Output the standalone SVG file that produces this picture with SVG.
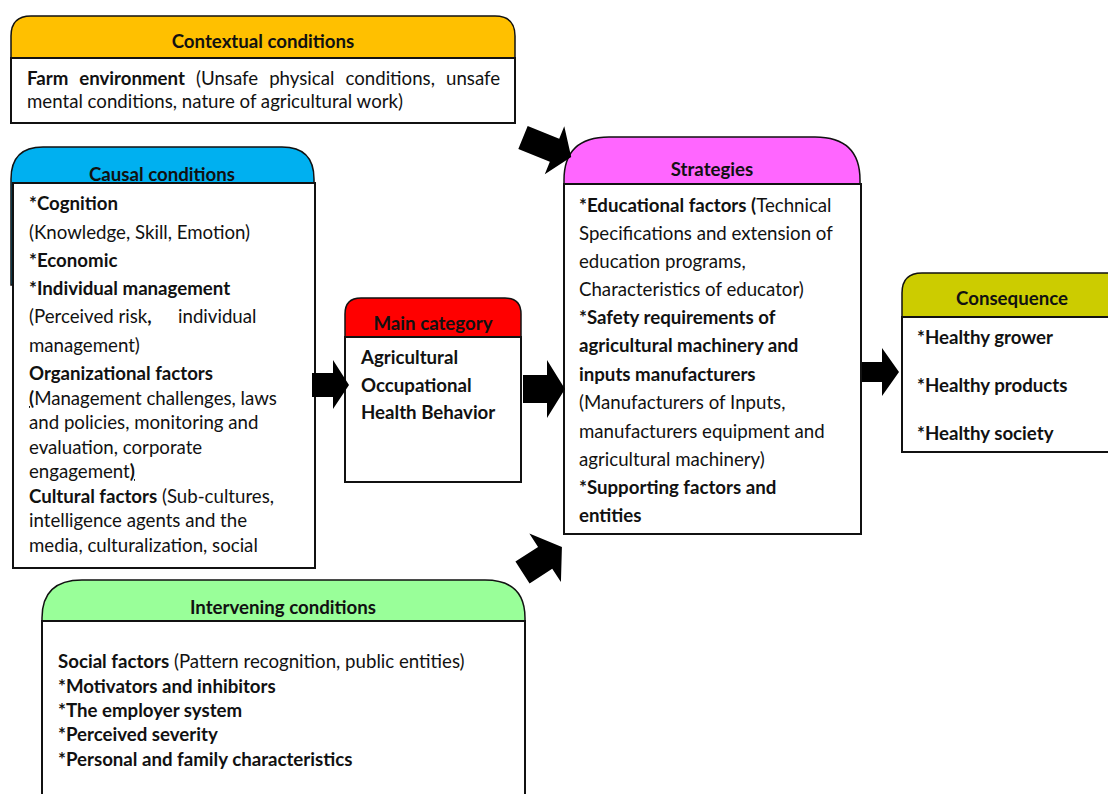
<svg xmlns="http://www.w3.org/2000/svg" width="1108" height="794" viewBox="0 0 1108 794">
<style>
text{font-family:Lato,"Open Sans","Liberation Sans",sans-serif;font-size:18.67px;fill:#111}
.b{font-weight:bold}
.t{font-weight:bold;text-anchor:middle}
.hdr{stroke:#111;stroke-width:1.5}
.box{fill:#fff;stroke:#111;stroke-width:2}
.arr{fill:#000;stroke:none}
</style>
<rect width="1108" height="794" fill="#fff"/>

<g id="contextual">
<path class="hdr" fill="#FFC000" d="M11,58 V36 Q11,16 31,16 H495 Q515,16 515,36 V58 Z"/>
<text class="t" x="263" y="48">Contextual conditions</text>
<rect class="box" x="11" y="58" width="504" height="65"/>
<text x="27" y="85" word-spacing="6.3"><tspan class="b">Farm environment</tspan> (Unsafe physical conditions, unsafe</text>
<text x="27" y="108">mental conditions, nature of agricultural work)</text>
</g>

<g id="causal">
<path class="hdr" fill="#00B0F0" d="M11,285 V179 Q11,147 43,147 H282 Q314,147 314,179 V285 Z"/>
<text class="t" x="162" y="181">Causal conditions</text>
<rect class="box" x="13" y="183" width="302" height="385"/>
<text class="b" x="29" y="210">*Cognition</text>
<text x="29" y="239">(Knowledge, Skill, Emotion)</text>
<text class="b" x="29" y="267">*Economic</text>
<text class="b" x="29" y="295">*Individual management</text>
<text y="323"><tspan x="29">(Perceived risk</tspan><tspan class="b">,</tspan><tspan x="178">individual</tspan></text>
<text x="29" y="352">management)</text>
<text class="b" x="29" y="380">Organizational factors</text>
<text x="29" y="405"><tspan class="b" text-decoration="underline">(</tspan>Management challenges, laws</text>
<text x="29" y="429">and policies, monitoring and</text>
<text x="29" y="454">evaluation, corporate</text>
<text x="29" y="478">engagement<tspan class="b" text-decoration="underline">)</tspan></text>
<text x="29" y="503"><tspan class="b">Cultural factors</tspan> (Sub-cultures,</text>
<text x="29" y="527">intelligence agents and the</text>
<text x="29" y="552">media, culturalization, social</text>
</g>

<g id="main">
<path class="hdr" fill="#FF0000" d="M345,337 V314 Q345,298 361,298 H505 Q521,298 521,314 V337 Z"/>
<text class="t" x="433" y="330">Main category</text>
<rect class="box" x="345" y="337" width="176" height="145"/>
<text class="b" x="361" y="364">Agricultural</text>
<text class="b" x="361" y="392">Occupational</text>
<text class="b" x="361" y="419">Health Behavior</text>
</g>

<g id="strategies">
<path class="hdr" fill="#FF66FF" d="M564,184 V180 Q564,137 609,137 H815 Q860,137 860,180 V184 Z"/>
<text class="t" x="712" y="176">Strategies</text>
<rect class="box" x="564" y="184" width="297" height="350"/>
<text x="579" y="212"><tspan class="b">*Educational factors (</tspan>Technical</text>
<text x="579" y="240">Specifications and extension of</text>
<text x="579" y="268">education programs,</text>
<text x="579" y="296">Characteristics of educator)</text>
<text class="b" x="579" y="324">*Safety requirements of</text>
<text class="b" x="579" y="352">agricultural machinery and</text>
<text class="b" x="579" y="381">inputs manufacturers</text>
<text x="579" y="409">(Manufacturers of Inputs,</text>
<text x="579" y="438">manufacturers equipment and</text>
<text x="579" y="466">agricultural machinery)</text>
<text class="b" x="579" y="494">*Supporting factors and</text>
<text class="b" x="579" y="522">entities</text>
</g>

<g id="consequence">
<path class="hdr" fill="#CCCC00" d="M902,317 V293 Q902,273 922,273 H1120 V317 Z"/>
<text class="t" x="1012" y="305">Consequence</text>
<rect class="box" x="902" y="317" width="220" height="135"/>
<text class="b" x="917" y="344">*Healthy grower</text>
<text class="b" x="917" y="392">*Healthy products</text>
<text class="b" x="917" y="440">*Healthy society</text>
</g>

<g id="intervening">
<path class="hdr" fill="#99FF99" d="M42,621 V618 Q42,580 82,580 H485 Q525,580 525,618 V621 Z"/>
<text class="t" x="283" y="614">Intervening conditions</text>
<rect class="box" x="42" y="621" width="483" height="190"/>
<text x="58" y="668"><tspan class="b">Social factors</tspan> (Pattern recognition, public entities)</text>
<text class="b" x="58" y="693">*Motivators and inhibitors</text>
<text class="b" x="58" y="717">*The employer system</text>
<text class="b" x="58" y="741">*Perceived severity</text>
<text class="b" x="58" y="766">*Personal and family characteristics</text>
</g>

<g id="connectors">
<polygon class="arr" transform="translate(523,137.5) rotate(22)" points="0,-12.5 34,-12.5 34,-26 52,0 34,26 34,12.5 0,12.5"/>
<polygon class="arr" transform="translate(522.5,572.5) rotate(-33)" points="0,-13 27,-13 27,-29 47,0 27,29 27,13 0,13"/>
<polygon class="arr" points="312,373 333,373 333,360 349,385 333,409 333,397 312,397"/>
<polygon class="arr" points="523,375 547,375 547,360 565,389 547,418 547,403 523,403"/>
<polygon class="arr" points="862,362 882,362 882,348 899,372 882,396 882,382 862,382"/>
</g>
</svg>
